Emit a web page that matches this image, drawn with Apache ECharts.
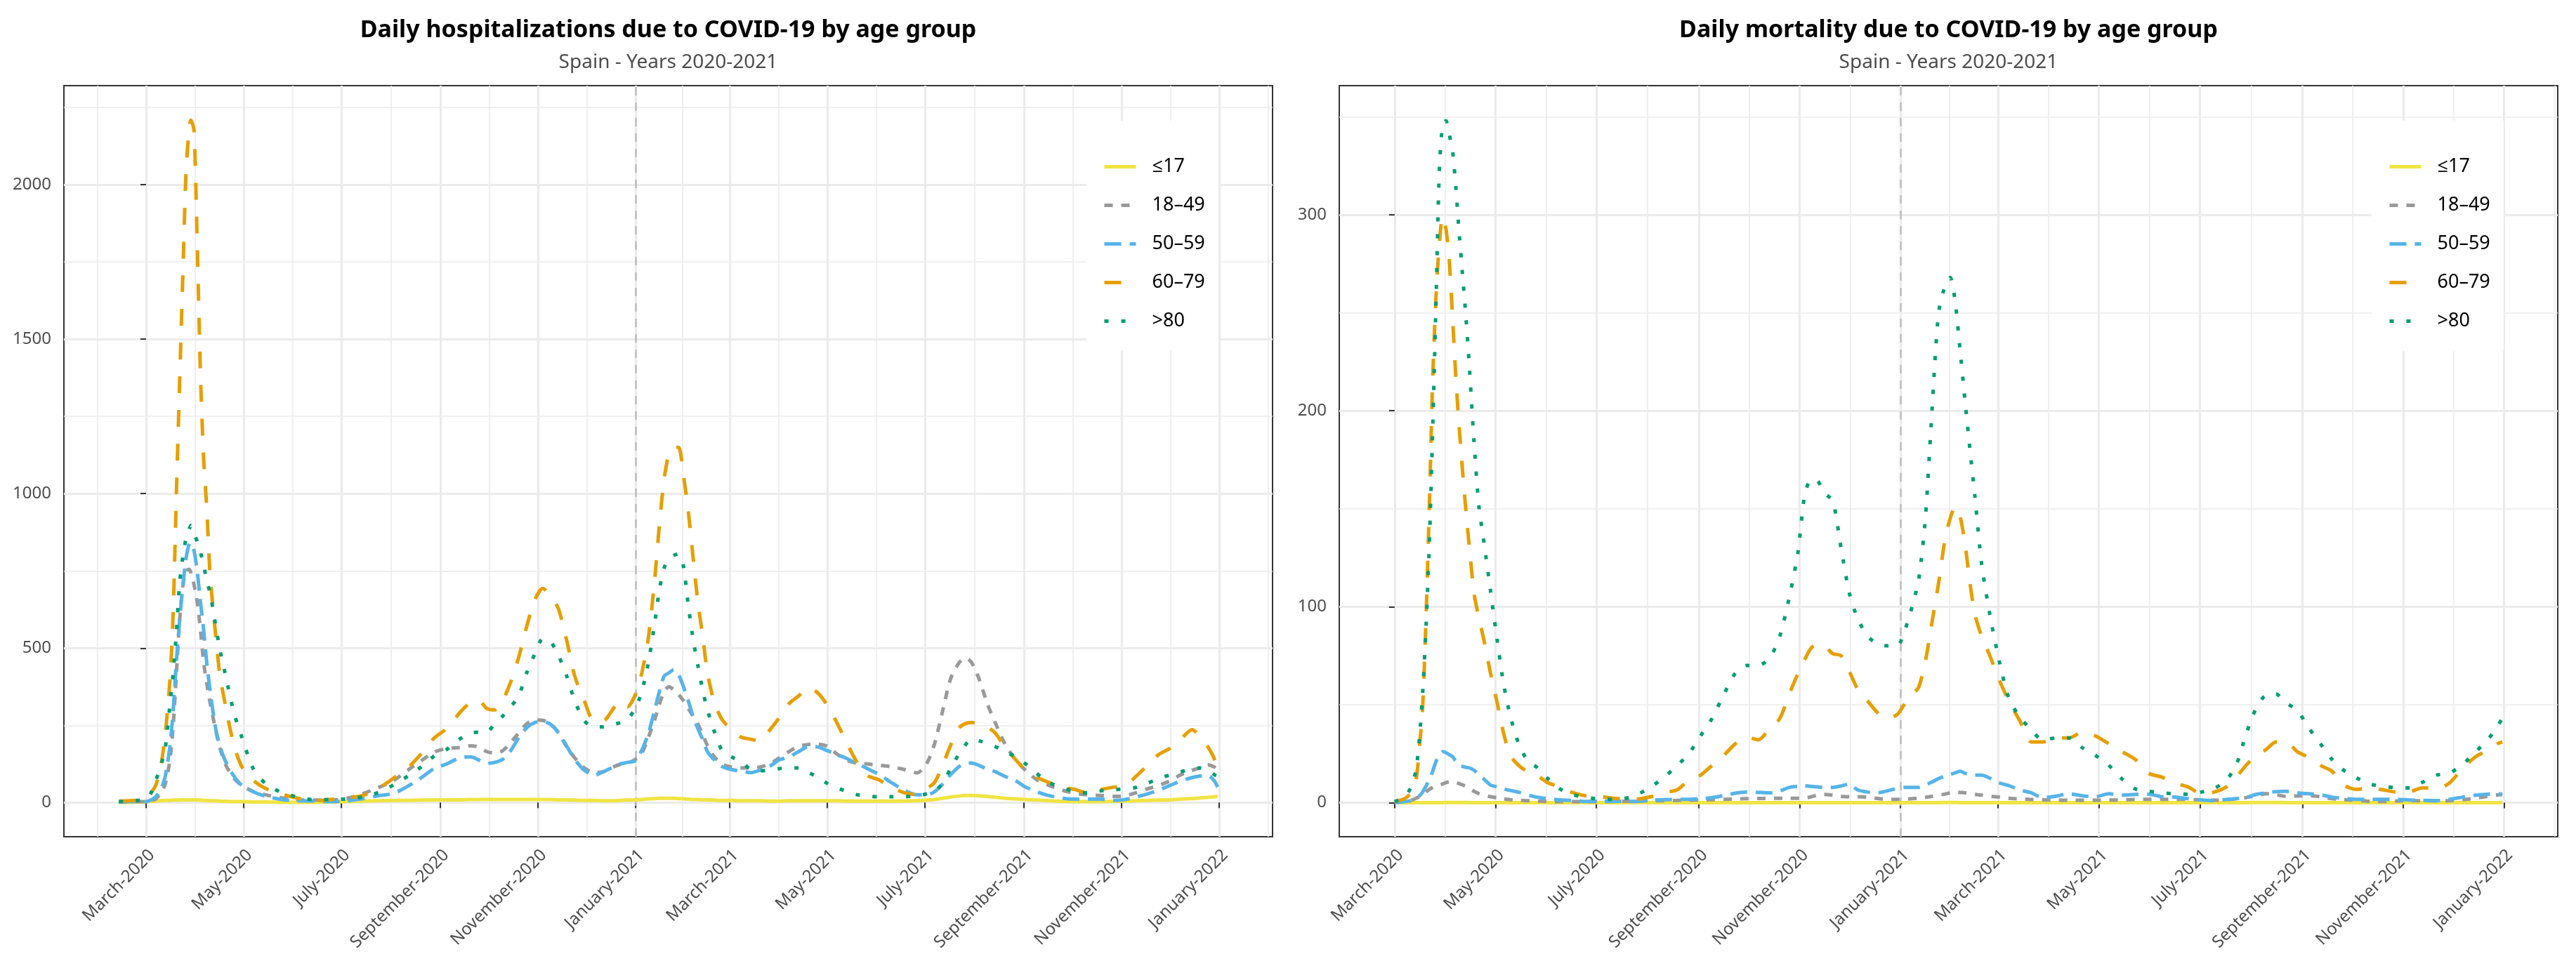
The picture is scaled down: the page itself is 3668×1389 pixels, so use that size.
<!DOCTYPE html>
<html>
<head>
<meta charset="utf-8">
<script src="https://cdn.jsdelivr.net/npm/echarts@6/dist/echarts.min.js"></script>
<style>
html,body{margin:0;padding:0;background:#ffffff;}
#chart{width:3668px;height:1389px;}
</style>
</head>
<body>
<div id="chart"></div>
<script>
// ---------- labels ----------
const ageGroups = ['≤17', '18–49', '50–59', '60–79', '>80'];
const hospTitle = 'Daily hospitalizations due to COVID-19 by age group';
const mortTitle = 'Daily mortality due to COVID-19 by age group';
const subTitle = 'Spain - Years 2020-2021';

// x positions are days since 2020-03-01
const tickDays = [0, 61, 122, 184, 245, 306, 365, 426, 487, 549, 610, 671];
const tickLabels = ['March-2020', 'May-2020', 'July-2020', 'September-2020', 'November-2020', 'January-2021',
  'March-2021', 'May-2021', 'July-2021', 'September-2021', 'November-2021', 'January-2022'];
const minorDaysHosp = [-30.5, 30.5, 91.5, 153, 214.5, 275.5, 335.5, 395.5, 456.5, 518, 579.5, 640.5, 701.5];
const minorDaysMort = [30.5, 91.5, 153, 214.5, 275.5, 335.5, 395.5, 456.5, 518, 579.5, 640.5, 701.5];
const vlineDay = 306; // 2021-01-01

const hospTicks = [0, 500, 1000, 1500, 2000];
const hospMinor = [250, 750, 1250, 1750, 2250];
const mortTicks = [0, 100, 200, 300];
const mortMinor = [50, 150, 250, 350];

// ---------- hospitalizations ----------
const hospDays = [
  -17, -10, -3, 0, 3, 6, 9, 12, 15, 17,
  19, 21, 23, 25, 27, 28, 30, 32, 34, 36,
  38, 40, 43, 46, 50, 55, 60, 67, 75, 85,
  95, 105, 115, 125, 135, 145, 155, 165, 172, 180,
  188, 196, 203, 208, 213, 218, 223, 228, 233, 238,
  243, 248, 253, 258, 263, 268, 274, 280, 286, 291,
  296, 301, 306, 310, 314, 318, 321, 324, 327, 330,
  333, 336, 339, 342, 345, 348, 351, 355, 360, 366,
  372, 378, 384, 390, 396, 402, 408, 414, 420, 426,
  432, 438, 444, 451, 458, 466, 474, 482, 488, 493,
  498, 503, 508, 512, 516, 521, 526, 531, 537, 543,
  550, 557, 565, 573, 581, 589, 597, 605, 612, 619,
  626, 633, 640, 647, 654, 659, 664, 668, 670
];
const hospU17 = [
  1, 1, 2, 3, 4, 5, 6, 7, 7, 8,
  8, 8, 9, 9, 9, 9, 9, 8, 8, 7,
  7, 6, 6, 5, 4, 3, 3, 2, 2, 1,
  1, 1, 2, 3, 5, 6, 7, 7, 8, 8,
  9, 9, 10, 10, 10, 10, 10, 10, 10, 10,
  10, 10, 10, 9, 9, 8, 7, 7, 6, 6,
  7, 8, 9, 10, 12, 13, 14, 14, 14, 14,
  13, 12, 11, 10, 10, 9, 9, 8, 7, 7,
  6, 6, 6, 5, 5, 6, 6, 6, 6, 6,
  6, 5, 5, 5, 5, 5, 5, 6, 8, 10,
  14, 18, 21, 23, 23, 22, 20, 17, 14, 12,
  10, 8, 6, 4, 3, 3, 3, 4, 5, 6,
  7, 8, 9, 11, 13, 15, 17, 19, 20
];
const hosp18 = [
  2, 2, 3, 3, 6, 11, 30, 60, 140, 250,
  420, 590, 700, 750, 755, 745, 705, 650, 560, 455,
  385, 325, 248, 180, 120, 78, 55, 36, 25, 15,
  9, 8, 8, 13, 28, 48, 72, 110, 135, 163,
  175, 178, 184, 180, 165, 160, 168, 195, 225, 255,
  267, 266, 255, 225, 180, 145, 112, 97, 100, 113,
  123, 128, 140, 160, 210, 268, 318, 360, 375, 365,
  350, 330, 305, 280, 255, 220, 185, 150, 125, 115,
  112, 112, 115, 125, 145, 165, 182, 188, 189, 182,
  157, 138, 128, 125, 121, 116, 107, 96, 125, 190,
  295, 400, 450, 468, 455, 398, 320, 258, 190, 143,
  104, 74, 55, 40, 30, 25, 23, 20, 22, 32,
  44, 55, 70, 90, 104, 113, 122, 115, 104
];
const hosp50 = [
  3, 3, 3, 3, 8, 19, 40, 85, 185, 300,
  460, 590, 700, 790, 838, 840, 815, 750, 650, 560,
  450, 365, 255, 185, 130, 85, 55, 35, 20, 10,
  6, 5, 3, 5, 12, 22, 30, 57, 80, 110,
  125, 145, 148, 138, 127, 130, 140, 168, 210, 242,
  259, 262, 253, 225, 183, 140, 105, 88, 100, 112,
  124, 130, 135, 170, 222, 300, 360, 410, 420, 430,
  414, 375, 330, 280, 240, 205, 165, 140, 117, 107,
  102, 97, 105, 118, 138, 148, 165, 181, 180, 168,
  155, 143, 128, 110, 92, 65, 40, 25, 25, 35,
  60, 90, 115, 127, 128, 120, 108, 100, 85, 73,
  50, 35, 22, 14, 11, 11, 11, 7, 10, 18,
  28, 40, 55, 70, 81, 86, 88, 70, 50
];
const hosp60 = [
  5, 6, 8, 10, 30, 55, 110, 220, 400, 620,
  1003, 1360, 1705, 2040, 2185, 2209, 2175, 1810, 1390, 1115,
  950, 740, 570, 420, 305, 185, 115, 72, 45, 27,
  14, 6, 10, 15, 22, 45, 80, 119, 158, 208,
  240, 290, 325, 330, 305, 300, 330, 390, 470, 570,
  655, 693, 670, 625, 525, 410, 330, 265, 265, 295,
  328, 310, 350, 420, 530, 720, 900, 1050, 1130, 1150,
  1150, 1060, 945, 795, 650, 540, 420, 330, 270, 236,
  212, 205, 200, 235, 275, 320, 345, 372, 355, 315,
  258, 195, 135, 88, 74, 50, 32, 26, 45, 65,
  120, 185, 240, 255, 259, 255, 245, 225, 180, 143,
  104, 82, 64, 50, 42, 30, 42, 50, 55, 85,
  120, 155, 175, 205, 236, 215, 180, 140, 90
];
const hosp80 = [
  3, 5, 8, 11, 30, 70, 115, 175, 320, 420,
  553, 710, 795, 855, 885, 897, 870, 845, 810, 770,
  715, 680, 590, 500, 405, 290, 210, 110, 60, 32,
  18, 9, 10, 12, 18, 32, 58, 90, 115, 150,
  172, 205, 225, 228, 228, 255, 280, 310, 345, 420,
  480, 530, 520, 475, 410, 330, 265, 245, 245, 252,
  258, 270, 305, 360, 450, 580, 690, 760, 790, 800,
  805, 765, 640, 530, 445, 365, 300, 235, 170, 148,
  132, 108, 103, 105, 110, 112, 112, 98, 82, 62,
  48, 36, 26, 21, 19, 19, 19, 22, 28, 36,
  62, 110, 155, 185, 205, 200, 190, 181, 165, 150,
  125, 94, 64, 48, 35, 31, 38, 42, 44, 49,
  62, 78, 89, 100, 108, 112, 105, 90, 85
];

// ---------- mortality ----------
const mortDays = [
  0, 6, 10, 13, 15, 17, 19, 21, 23, 25,
  27, 29, 31, 33, 35, 37, 39, 41, 43, 45,
  48, 51, 54, 58, 62, 66, 70, 75, 80, 86,
  93, 100, 108, 116, 125, 135, 145, 155, 163, 171,
  178, 185, 192, 199, 206, 213, 220, 227, 233, 239,
  244, 248, 252, 256, 260, 265, 270, 275, 280, 286,
  292, 298, 304, 309, 313, 317, 321, 325, 329, 333,
  336, 339, 342, 345, 348, 351, 355, 360, 366, 372,
  378, 385, 392, 400, 408, 416, 424, 432, 440, 448,
  456, 464, 472, 480, 488, 496, 503, 509, 515, 521,
  527, 533, 539, 546, 553, 560, 567, 574, 582, 590,
  598, 606, 614, 622, 630, 638, 646, 654, 662, 667,
  670
];
const mortU17 = [
  0, 0, 0, 0, 0, 0, 0, 0, 0, 0,
  0, 0, 0.1, 0.1, 0.1, 0.1, 0.1, 0.1, 0.1, 0,
  0, 0, 0, 0, 0, 0, 0, 0, 0, 0,
  0, 0, 0, 0, 0, 0, 0, 0, 0, 0,
  0, 0, 0, 0, 0, 0, 0, 0, 0, 0,
  0, 0, 0, 0, 0, 0, 0, 0, 0, 0,
  0, 0, 0, 0, 0, 0, 0, 0, 0, 0.1,
  0.1, 0.1, 0, 0, 0, 0, 0, 0, 0, 0,
  0, 0, 0, 0, 0, 0, 0, 0, 0, 0,
  0, 0, 0, 0, 0, 0, 0, 0, 0, 0.1,
  0.1, 0.1, 0, 0, 0, 0, 0, 0, 0, 0,
  0, 0, 0, 0, 0, 0, 0, 0, 0, 0,
  0
];
const mort18 = [
  0, 0.5, 1.2, 2.2, 3, 4, 5.5, 6.8, 7.8, 8.5,
  9, 9.5, 10.2, 10.6, 10.7, 10.3, 9.7, 9.1, 8.3, 7.3,
  5.8, 4.6, 3.8, 3, 2.5, 1.9, 1.5, 1.2, 1, 0.8,
  0.6, 0.5, 0.5, 0.5, 0.5, 0.6, 0.8, 1, 1, 1.1,
  1.2, 1.4, 1.5, 1.7, 1.8, 2, 2.1, 2.2, 2.2, 2.2,
  2.2, 2.3, 3, 3.8, 4.2, 3.8, 3.2, 3, 3, 2.8,
  2.1, 1.7, 1.7, 1.8, 2, 2.3, 2.7, 3.2, 3.8, 4.4,
  5, 5.4, 5.2, 5, 4.7, 4.2, 3.8, 3.3, 2.8, 2.2,
  1.9, 1.6, 1.4, 1.3, 1.2, 1.2, 1.2, 1.3, 1.4, 1.6,
  1.7, 1.7, 1.7, 1.6, 1.4, 1.2, 1.5, 2, 2.6, 3.5,
  4.5, 4, 3.2, 3.4, 3.6, 3, 2, 1.5, 1.2, 0.7,
  0.6, 0.8, 1, 1, 1, 1, 1.5, 2.3, 3.3, 3.9,
  4.2
];
const mort50 = [
  0, 0.5, 1, 2, 3.5, 5.5, 8.5, 12, 16, 21,
  24, 26, 25.5, 24.5, 23.5, 21, 19, 18.5, 18, 17.8,
  16.5, 14, 12, 9, 8, 7, 6.2, 5.3, 4, 2.8,
  2, 1.4, 1, 0.6, 0.7, 0.7, 0.6, 1.2, 1.5, 1.7,
  1.7, 2.1, 2.5, 3.6, 4.8, 5.4, 5.2, 5, 6, 7.8,
  8.3, 8.6, 8.3, 8, 7.8, 7.8, 8.5, 9.5, 6.5, 5.4,
  5, 6, 7.3, 7.8, 7.8, 7.8, 9, 10.5, 12.3, 13.5,
  14.3, 15.2, 16, 15, 14.3, 14, 14, 12.5, 10, 8.5,
  6.5, 5, 2.5, 3.3, 4.5, 3.5, 3, 4.5, 3.8, 4.2,
  4.3, 3, 2.8, 2, 1.3, 1, 1.6, 2, 2.6, 4.2,
  5, 5.6, 5.8, 5, 4.5, 4, 2.8, 2.1, 1.7, 1.7,
  1.7, 1.7, 1.3, 1.1, 1, 1.7, 2.8, 3.8, 4.4, 4.6,
  4.2
];
const mort60 = [
  0.5, 2, 5, 12, 28, 50, 95, 152, 216, 258,
  285, 299, 293, 277, 248, 217, 192, 170, 150, 132,
  107, 94, 83, 66, 51, 35, 24, 19, 16, 14,
  10, 8, 5, 3.4, 3, 2, 1.7, 3, 5, 6.6,
  11.5, 14, 19, 24, 30, 33.5, 32, 38, 43, 56,
  66, 73, 79, 81, 80, 76, 75, 67, 58, 52,
  46, 43, 45, 51, 55, 59, 72, 92, 112, 135,
  145, 151, 146, 132, 112, 96, 85, 75, 62, 51,
  42, 31, 31, 33, 33, 36, 34, 30, 26, 22,
  15, 13, 10, 8, 4.5, 5.5, 8, 13, 19, 24,
  27, 31, 31, 26, 23, 19, 16, 9, 6.8, 7.5,
  6.5, 5.4, 5.6, 7.6, 7, 10, 17.5, 23.5, 27, 30,
  31
];
const mort80 = [
  0.5, 3, 8, 17, 33, 57, 90, 132, 190, 255,
  322, 346, 348, 341, 333, 314, 291, 270, 249, 225,
  184, 151, 133, 108, 83, 60, 44, 30, 22, 18,
  12, 7, 4, 2.6, 1.8, 1.7, 3.4, 8, 13, 19,
  25, 34, 43, 55, 66, 70, 70, 74, 85, 106,
  128, 157, 165, 164, 158, 154, 130, 107, 94, 85,
  81, 80, 80, 89, 100, 114, 145, 200, 250, 264,
  268, 256, 231, 205, 180, 156, 122, 96, 71, 52,
  44, 37, 32, 33, 33, 28, 24, 19, 12, 7,
  5.8, 5, 4.5, 4.3, 5.4, 7.3, 11.5, 19, 35, 48,
  55, 55.5, 51, 47, 38, 30, 22, 16.5, 12.5, 9.5,
  8.2, 7.6, 7.5, 10.5, 14, 15, 19.5, 26, 33, 39,
  43
];

// ---------- styling ----------
const colors = ['#F0E442', '#999999', '#56B4E9', '#E69F00', '#009E73'];
const dashes = ['solid', [12, 12], [24, 12], [24, 24], [6, 18]];
const FONT = '"Noto Sans", "Open Sans", sans-serif';
const gridColor = '#ebebeb';
const textGrey = '#4d4d4d';

const panels = [
  { left: 91, width: 1721, xmin: -51.35, xmax: 704.35, ymin: -110.5, ymax: 2320.5,
    ticks: hospTicks, minor: hospMinor, xminor: minorDaysHosp, days: hospDays,
    values: [hospU17, hosp18, hosp50, hosp60, hosp80], title: hospTitle, legendLeft: 1547 },
  { left: 1907, width: 1735, xmin: -33.5, xmax: 703.5, ymin: -17.4, ymax: 365.9,
    ticks: mortTicks, minor: mortMinor, xminor: minorDaysMort, days: mortDays,
    values: [mortU17, mort18, mort50, mort60, mort80], title: mortTitle, legendLeft: 3377 }
];

const grids = [], xAxes = [], yAxes = [], series = [], legends = [], graphics = [];
panels.forEach((p, pi) => {
  grids.push({ left: p.left, top: 122, width: p.width, height: 1070, show: true,
    borderColor: '#333333', borderWidth: 2, backgroundColor: 'transparent', outerBoundsMode: 'none' });
  const xMajor = xAxes.length;
  xAxes.push({
    type: 'value', gridIndex: pi, min: p.xmin, max: p.xmax, position: 'bottom',
    axisLine: { show: false },
    axisTick: { show: true, length: 8, lineStyle: { color: '#333333', width: 2 }, customValues: tickDays },
    axisLabel: { show: true, customValues: tickDays, rotate: 45, align: 'right', verticalAlign: 'top', margin: 14,
      fontSize: 24, color: textGrey, fontFamily: FONT,
      formatter: v => tickLabels[tickDays.indexOf(v)] || '' },
    splitLine: { show: true, lineStyle: { color: gridColor, width: 3 } }
  });
  xAxes.push({
    type: 'value', gridIndex: pi, min: p.xmin, max: p.xmax, position: 'bottom',
    axisLine: { show: false }, axisLabel: { show: false },
    axisTick: { show: false, customValues: p.xminor },
    splitLine: { show: true, lineStyle: { color: gridColor, width: 1.6 } }
  });
  const yMajor = yAxes.length;
  yAxes.push({
    type: 'value', gridIndex: pi, min: p.ymin, max: p.ymax, position: 'left',
    axisLine: { show: false },
    axisTick: { show: true, length: 8, lineStyle: { color: '#333333', width: 2 }, customValues: p.ticks },
    axisLabel: { show: true, customValues: p.ticks, margin: 18, fontSize: 24, color: textGrey, fontFamily: FONT,
      formatter: v => String(v) },
    splitLine: { show: true, lineStyle: { color: gridColor, width: 3 } }
  });
  yAxes.push({
    type: 'value', gridIndex: pi, min: p.ymin, max: p.ymax, position: 'left',
    axisLine: { show: false }, axisLabel: { show: false },
    axisTick: { show: false, customValues: p.minor },
    splitLine: { show: true, lineStyle: { color: gridColor, width: 1.6 } }
  });
  ageGroups.forEach((name, i) => {
    const s = {
      type: 'line', name: name, xAxisIndex: xMajor, yAxisIndex: yMajor,
      data: p.days.map((d, k) => [d, p.values[i][k]]),
      symbol: 'none', smooth: 0.25, silent: true, animation: false, z: 3 + i,
      lineStyle: { color: colors[i], width: 5, type: dashes[i], cap: 'butt', join: 'round' },
      itemStyle: { color: colors[i] }
    };
    if (i === 0) {
      s.markLine = { silent: true, symbol: ['none', 'none'], animation: false, z: 2,
        label: { show: false },
        lineStyle: { color: '#bdbdbd', type: [12, 10], width: 2.5 },
        data: [{ xAxis: vlineDay }] };
    }
    series.push(s);
  });
  legends.push({
    orient: 'vertical', left: p.legendLeft, top: 172, padding: [52, 19, 29, 23],
    itemWidth: 45, itemHeight: 20, itemGap: 28, backgroundColor: '#ffffff',
    selectedMode: false, data: ageGroups,
    itemStyle: { opacity: 0 },
    lineStyle: { width: 5 },
    textStyle: { fontSize: 27, color: '#000000', fontFamily: FONT, lineHeight: 20, padding: [0, 0, 0, 18] }
  });
  const cx = p.left + p.width / 2;
  graphics.push({ type: 'text', x: cx, y: 43, silent: true,
    style: { text: p.title, font: 'bold 34px ' + FONT, fill: '#000000', align: 'center', verticalAlign: 'middle',
      textAlign: 'center', textVerticalAlign: 'middle' } });
  graphics.push({ type: 'text', x: cx, y: 89, silent: true,
    style: { text: subTitle, font: '28px ' + FONT, fill: textGrey, align: 'center', verticalAlign: 'middle',
      textAlign: 'center', textVerticalAlign: 'middle' } });
});

const chart = echarts.init(document.getElementById('chart'), null, { renderer: 'canvas', width: 3668, height: 1389 });
chart.setOption({
  backgroundColor: '#ffffff',
  animation: false,
  textStyle: { fontFamily: FONT },
  grid: grids, xAxis: xAxes, yAxis: yAxes, series: series, legend: legends, graphic: graphics
});
</script>
</body>
</html>
